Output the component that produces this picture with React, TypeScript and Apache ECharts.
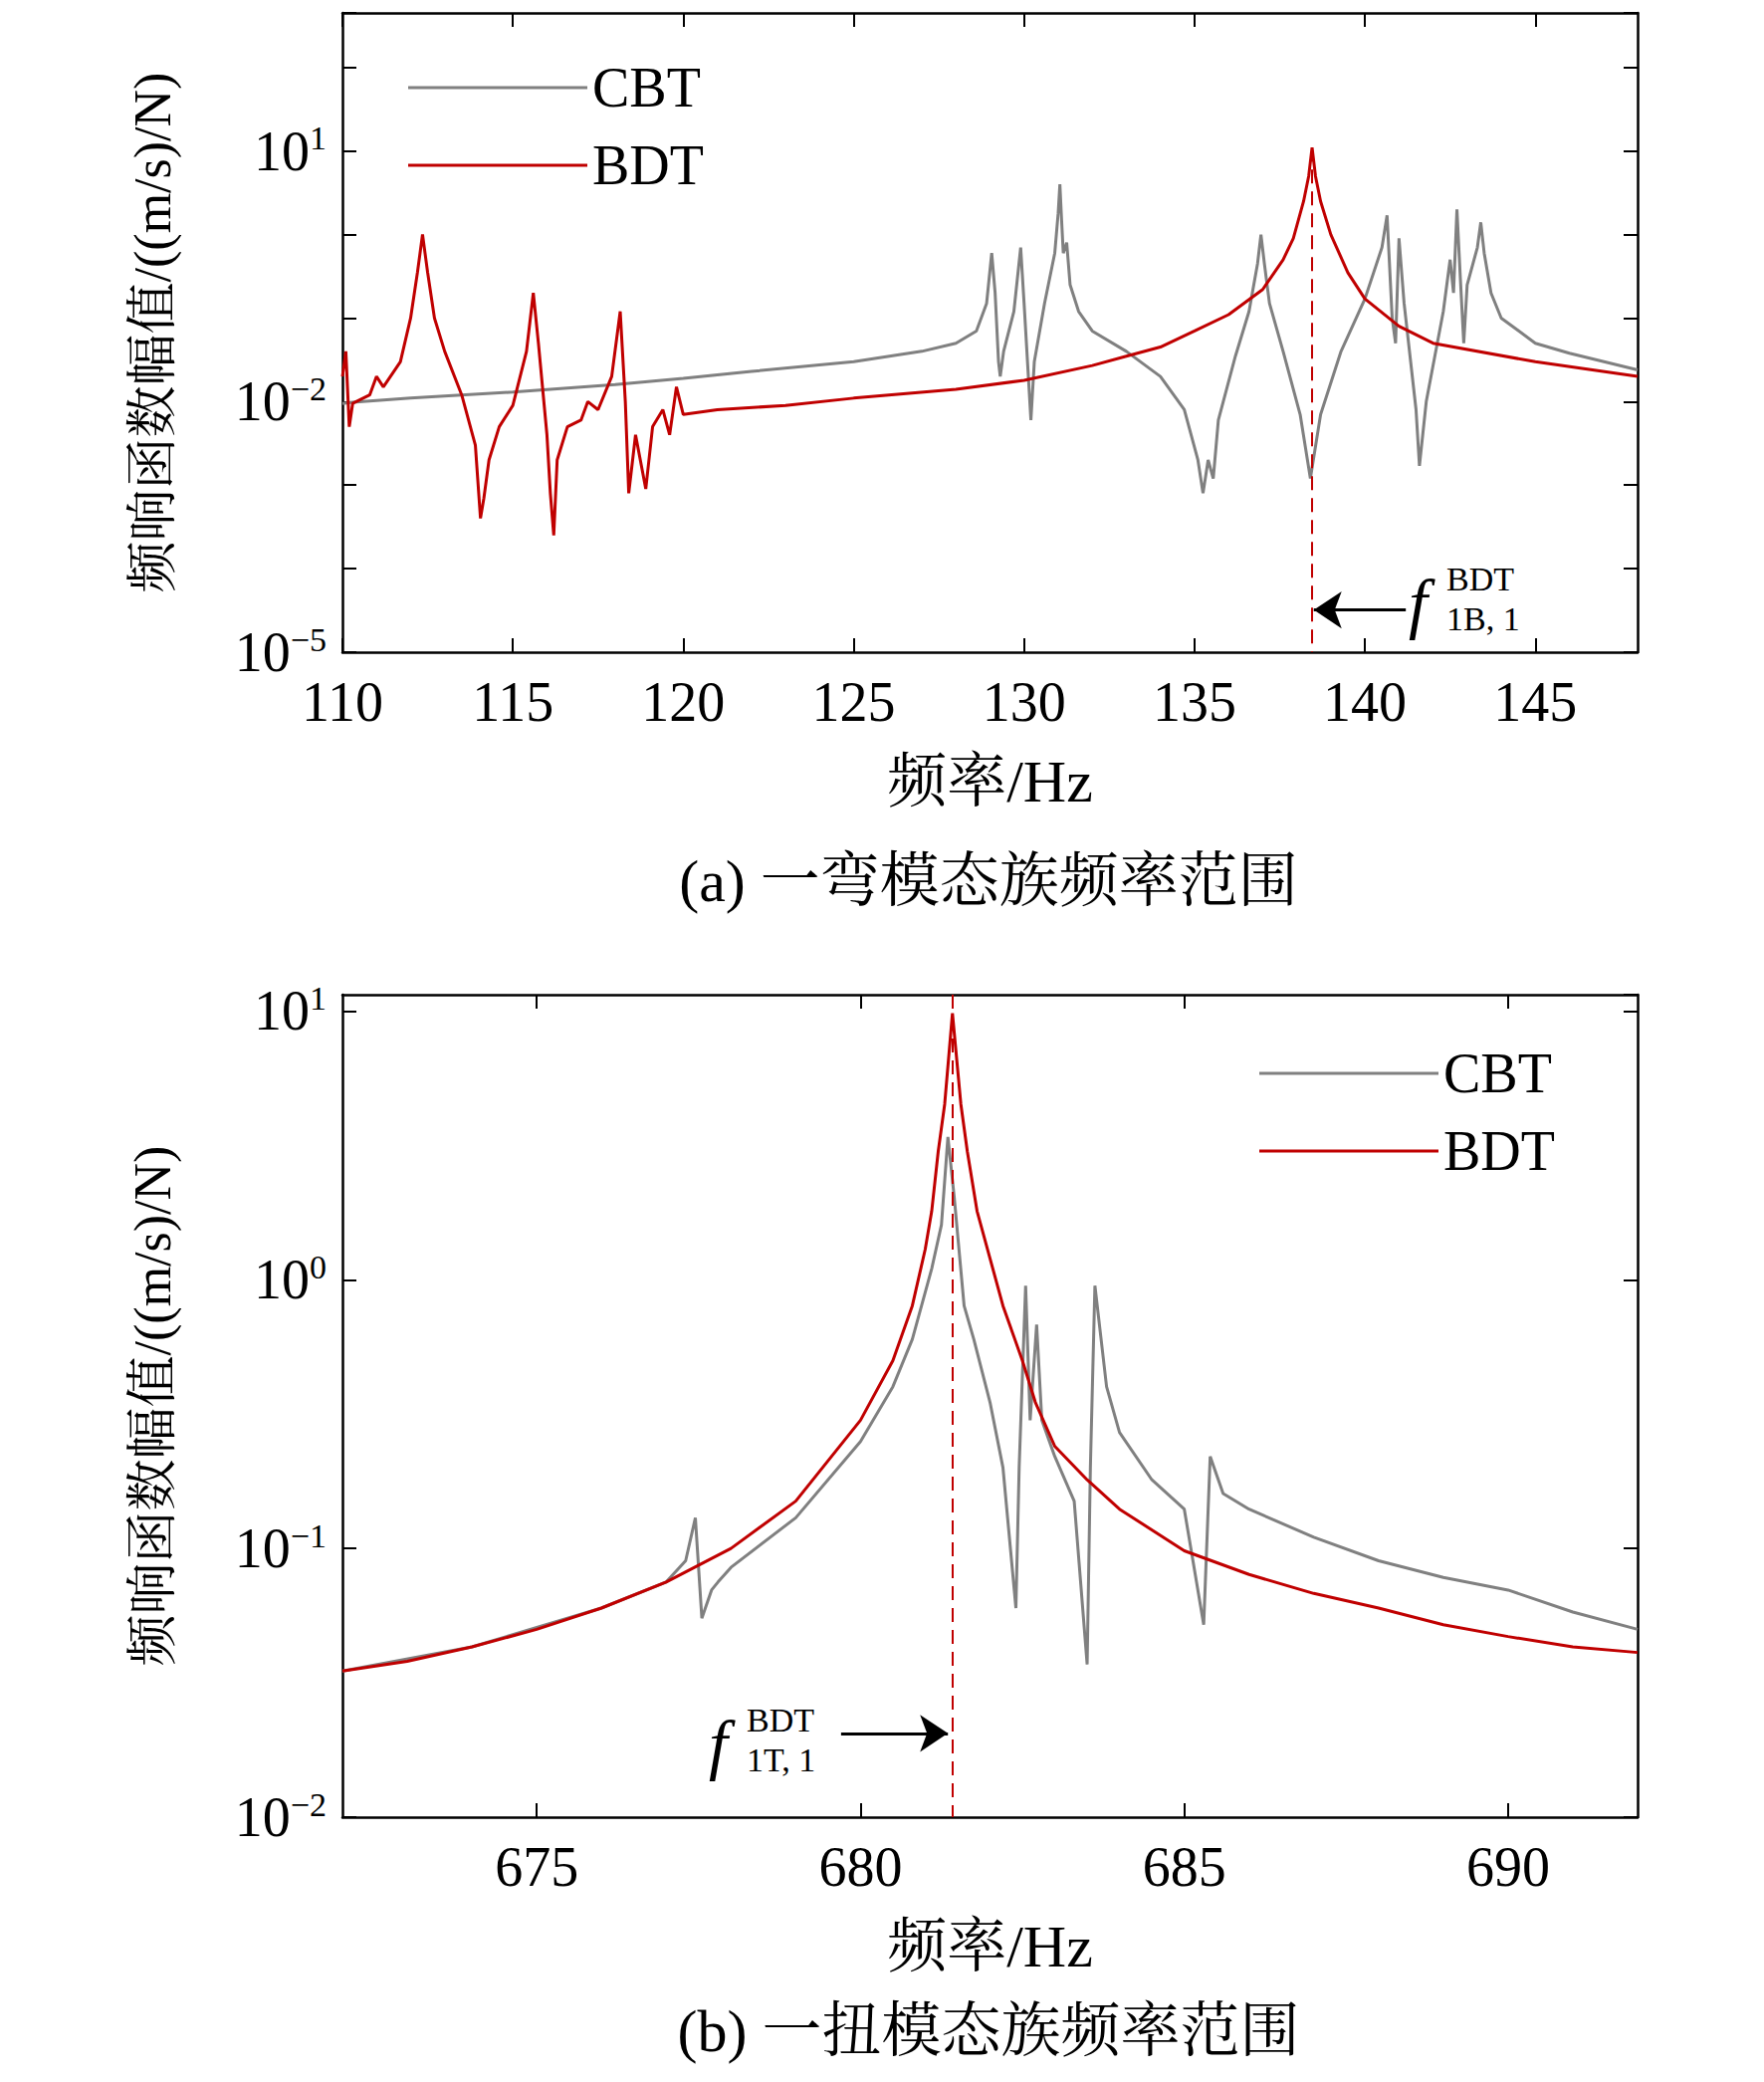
import { useEffect, useRef } from 'react'
import * as echarts from 'echarts'

// 一弯模态族 (a)
const cbtA: [number, number][] = [
  [110, 0.0095], [110.3, 0.0098], [112, 0.011], [115, 0.013], [118, 0.016], [120, 0.019], [122, 0.023],
  [125, 0.03], [127, 0.04], [128, 0.05], [128.6, 0.07], [128.9, 0.15], [129.05, 0.6], [129.15, 0.2],
  [129.25, 0.03], [129.3, 0.02], [129.4, 0.04], [129.7, 0.12], [129.9, 0.7], [130, 0.15], [130.1, 0.03],
  [130.2, 0.006], [130.3, 0.03], [130.6, 0.15], [130.9, 0.6], [131.0, 1.8], [131.05, 4], [131.1, 1.5],
  [131.15, 0.6], [131.25, 0.8], [131.35, 0.25], [131.6, 0.12], [132, 0.07], [133, 0.04], [134, 0.02],
  [134.7, 0.008], [135.1, 0.002], [135.25, 0.0008], [135.4, 0.002], [135.55, 0.0012], [135.7, 0.006],
  [136.2, 0.035], [136.6, 0.12], [136.85, 0.45], [136.95, 1.0], [137.05, 0.45], [137.2, 0.15],
  [137.6, 0.04], [138.1, 0.007], [138.4, 0.0012], [138.7, 0.007], [139.3, 0.04], [140, 0.17],
  [140.5, 0.7], [140.65, 1.7], [140.8, 0.1], [140.9, 0.05], [141, 0.9], [141.15, 0.15], [141.5, 0.008],
  [141.6, 0.0017], [141.8, 0.01], [142.3, 0.12], [142.5, 0.5], [142.6, 0.2], [142.7, 2.0], [142.8, 0.3],
  [142.9, 0.05], [143.0, 0.25], [143.3, 0.7], [143.4, 1.4], [143.5, 0.6], [143.7, 0.2], [144, 0.1],
  [145, 0.05], [146, 0.038], [148, 0.024],
]
const bdtA: [number, number][] = [
  [110, 0.02], [110.1, 0.04], [110.2, 0.005], [110.3, 0.0095], [110.8, 0.012], [111, 0.02], [111.2, 0.015],
  [111.7, 0.03], [112.0, 0.1], [112.2, 0.35], [112.35, 1.0], [112.5, 0.35], [112.7, 0.1], [113, 0.04],
  [113.5, 0.012], [113.9, 0.003], [114.05, 0.0004], [114.15, 0.0007], [114.3, 0.002], [114.6, 0.005],
  [115, 0.009], [115.4, 0.04], [115.6, 0.2], [115.75, 0.05], [116, 0.004], [116.1, 0.0008],
  [116.2, 0.00025], [116.3, 0.002], [116.6, 0.005], [117, 0.006], [117.2, 0.01], [117.5, 0.008],
  [117.9, 0.02], [118.15, 0.12], [118.3, 0.01], [118.4, 0.0008], [118.6, 0.004], [118.9, 0.0009],
  [119.1, 0.005], [119.4, 0.008], [119.6, 0.004], [119.8, 0.015], [120, 0.007], [121, 0.008],
  [123, 0.009], [125, 0.011], [128, 0.014], [130, 0.018], [132, 0.027], [133, 0.035], [134, 0.045],
  [135, 0.07], [136, 0.11], [137, 0.22], [137.6, 0.5], [137.9, 0.9], [138.2, 2.5], [138.35, 5],
  [138.45, 11], [138.55, 5], [138.7, 2.5], [139, 1.0], [139.5, 0.35], [140, 0.17], [141, 0.08],
  [142, 0.05], [145, 0.03], [148, 0.02],
]

// 一扭模态族 (b)
const cbtB: [number, number][] = [
  [672, 0.035], [674, 0.043], [676, 0.06], [677, 0.075], [677.3, 0.09], [677.45, 0.13], [677.55, 0.055],
  [677.7, 0.07], [677.8, 0.075], [678, 0.085], [679, 0.13], [680, 0.25], [680.5, 0.4], [680.8, 0.6],
  [681.1, 1.1], [681.25, 1.6], [681.35, 3.4], [681.45, 2], [681.6, 0.8], [681.75, 0.6], [682, 0.35],
  [682.2, 0.2], [682.4, 0.06], [682.45, 0.2], [682.55, 0.95], [682.62, 0.3], [682.72, 0.68], [682.8, 0.3],
  [683, 0.22], [683.3, 0.15], [683.5, 0.037], [683.55, 0.2], [683.62, 0.95], [683.8, 0.4],
  [684, 0.27], [684.5, 0.18], [685, 0.14], [685.3, 0.052], [685.4, 0.22], [685.6, 0.16], [686, 0.14],
  [687, 0.11], [688, 0.09], [689, 0.078], [690, 0.07], [691, 0.058], [692, 0.05],
]
const bdtB: [number, number][] = [
  [672, 0.035], [673, 0.038], [674, 0.043], [675, 0.05], [676, 0.06], [677, 0.075], [678, 0.1],
  [679, 0.15], [680, 0.3], [680.5, 0.5], [680.8, 0.8], [681, 1.3], [681.1, 1.8], [681.2, 3],
  [681.3, 4.5], [681.42, 9.8], [681.55, 4.5], [681.65, 3], [681.8, 1.8], [682, 1.2], [682.2, 0.8],
  [682.5, 0.5], [682.7, 0.35], [683, 0.24], [683.5, 0.18], [684, 0.14], [685, 0.098],
  [686, 0.08], [687, 0.068], [688, 0.06], [689, 0.052], [690, 0.047], [691, 0.043], [692, 0.041],
]

const labelsA = [-5, -2, 1]
const labelsB = [-2, -1, 0, 1]
const ticksA = [110, 115, 120, 125, 130, 135, 140, 145]
const ticksB = [675, 680, 685, 690]

const SERIF = '"Liberation Serif", "Noto Serif CJK SC", "Noto Sans CJK SC", serif'
const GRAY = '#808080'
const RED = '#c00000'
const FS = 56

const powRich = {
  b: { fontSize: FS, fontFamily: SERIF, color: '#000' },
  s: { fontSize: 34, fontFamily: SERIF, color: '#000', padding: [0, 0, 26, 0] },
}
const powFmt = (show: number[]) => (v: number) => {
  const e = Math.round(Math.log10(v))
  if (!show.includes(e)) return ''
  return `{b|10}{s|${e < 0 ? '−' + -e : e}}`
}

const tickStyle = { inside: true, length: 14, lineStyle: { color: '#000', width: 2 } }
const lineStyle = { lineStyle: { color: '#000', width: 2.5 } }

function yAxes(gi: number, min: number, max: number, show: number[]) {
  return [
    {
      type: 'log', gridIndex: gi, min, max, logBase: 10,
      axisLine: { show: true, ...lineStyle }, axisTick: tickStyle, splitLine: { show: false },
      axisLabel: { formatter: powFmt(show), rich: powRich, margin: 16 },
      name: '频响函数幅值/((m/s)/N)', nameLocation: 'middle', nameRotate: 90, nameGap: 165,
      nameTextStyle: { fontSize: 52, fontFamily: SERIF, color: '#000' },
    },
    {
      type: 'log', gridIndex: gi, min, max, logBase: 10, position: 'right',
      axisLine: { show: true, ...lineStyle }, axisTick: tickStyle, splitLine: { show: false },
      axisLabel: { show: false },
    },
  ]
}

export default function App() {
  const ref = useRef<HTMLDivElement>(null)
  useEffect(() => {
    if (!ref.current) return
    const chart = echarts.init(ref.current, null, { renderer: 'svg' })
    const xLabel = { fontSize: FS, fontFamily: SERIF, color: '#000', margin: 22 }
    const xName = { fontSize: 60, fontFamily: SERIF, color: '#000' }
    const legendBase = {
      orient: 'vertical', itemWidth: 180, itemHeight: 3, itemGap: 22, icon: 'rect',
      textStyle: { fontSize: FS, fontFamily: SERIF, color: '#000' },
      data: ['CBT', 'BDT'],
    }
    const fLabel = (x: number, y: number, sub: string) => [
      { type: 'text', x, y, style: { text: 'f', fontSize: 68, fontStyle: 'italic', fontFamily: SERIF, fill: '#000' } },
      { type: 'text', x: x + 38, y: y - 8, style: { text: 'BDT', fontSize: 34, fontFamily: SERIF, fill: '#000' } },
      { type: 'text', x: x + 38, y: y + 32, style: { text: sub, fontSize: 34, fontFamily: SERIF, fill: '#000' } },
    ]
    chart.setOption({
      animation: false,
      grid: [
        { left: 344, right: 127, top: 13, height: 642 },
        { left: 344, right: 127, top: 999, height: 826 },
      ],
      legend: [
        { ...legendBase, left: 405, top: 55 },
        { ...legendBase, left: 1260, top: 1045 },
      ],
      xAxis: [
        {
          type: 'value', gridIndex: 0, min: 110, max: 148,
          axisLine: lineStyle, axisTick: { ...tickStyle, customValues: ticksA }, splitLine: { show: false },
          axisLabel: { ...xLabel, customValues: ticksA },
          name: '频率/Hz', nameLocation: 'middle', nameGap: 100, nameTextStyle: xName,
        },
        {
          type: 'value', gridIndex: 0, min: 110, max: 148, position: 'top',
          axisLine: lineStyle, axisTick: { ...tickStyle, customValues: ticksA }, splitLine: { show: false },
          axisLabel: { show: false, customValues: ticksA },
        },
        {
          type: 'value', gridIndex: 1, min: 672, max: 692,
          axisLine: lineStyle, axisTick: { ...tickStyle, customValues: ticksB }, splitLine: { show: false },
          axisLabel: { ...xLabel, customValues: ticksB },
          name: '频率/Hz', nameLocation: 'middle', nameGap: 100, nameTextStyle: xName,
        },
        {
          type: 'value', gridIndex: 1, min: 672, max: 692, position: 'top',
          axisLine: lineStyle, axisTick: { ...tickStyle, customValues: ticksB }, splitLine: { show: false },
          axisLabel: { show: false, customValues: ticksB },
        },
      ],
      yAxis: [...yAxes(0, 1e-5, 450, labelsA), ...yAxes(1, 0.01, 11.5, labelsB)],
      series: [
        { name: 'CBT', type: 'line', xAxisIndex: 0, yAxisIndex: 0, data: cbtA, showSymbol: false, symbol: 'none', lineStyle: { color: GRAY, width: 3 }, itemStyle: { color: GRAY } },
        {
          name: 'BDT', type: 'line', xAxisIndex: 0, yAxisIndex: 0, data: bdtA, showSymbol: false, symbol: 'none',
          lineStyle: { color: RED, width: 3 }, itemStyle: { color: RED },
          markLine: {
            silent: true, label: { show: false },
            data: [
              [{ coord: [138.45, 11], symbol: 'none', lineStyle: { color: RED, type: [14, 8], width: 2 } }, { coord: [138.45, 1e-5], symbol: 'none' }],
              [{ coord: [141.2, 3.2e-5], symbol: 'none', lineStyle: { color: '#000', type: 'solid', width: 3 } }, { coord: [138.5, 3.2e-5], symbol: 'arrow', symbolSize: 28 }],
            ],
          },
        },
        { name: 'CBT', type: 'line', xAxisIndex: 2, yAxisIndex: 2, data: cbtB, showSymbol: false, symbol: 'none', lineStyle: { color: GRAY, width: 3 }, itemStyle: { color: GRAY } },
        {
          name: 'BDT', type: 'line', xAxisIndex: 2, yAxisIndex: 2, data: bdtB, showSymbol: false, symbol: 'none',
          lineStyle: { color: RED, width: 3 }, itemStyle: { color: RED },
          markLine: {
            silent: true, label: { show: false },
            data: [
              [{ coord: [681.42, 11.5], symbol: 'none', lineStyle: { color: RED, type: [14, 8], width: 2 } }, { coord: [681.42, 0.01], symbol: 'none' }],
              [{ coord: [679.7, 0.0205], symbol: 'none', lineStyle: { color: '#000', type: 'solid', width: 3 } }, { coord: [681.35, 0.0205], symbol: 'arrow', symbolSize: 28 }],
            ],
          },
        },
      ],
      graphic: [
        ...fLabel(1415, 572, '1B, 1'),
        ...fLabel(712, 1718, '1T, 1'),
        { type: 'text', x: 993, y: 855, style: { text: '(a) 一弯模态族频率范围', fontSize: 60, fontFamily: SERIF, fill: '#000', align: 'center' } },
        { type: 'text', x: 993, y: 2010, style: { text: '(b) 一扭模态族频率范围', fontSize: 60, fontFamily: SERIF, fill: '#000', align: 'center' } },
      ],
    })
    return () => chart.dispose()
  }, [])
  return <div ref={ref} style={{ position: 'absolute', left: 0, top: 0, width: 1772, height: 2091, background: '#fff' }} />
}
